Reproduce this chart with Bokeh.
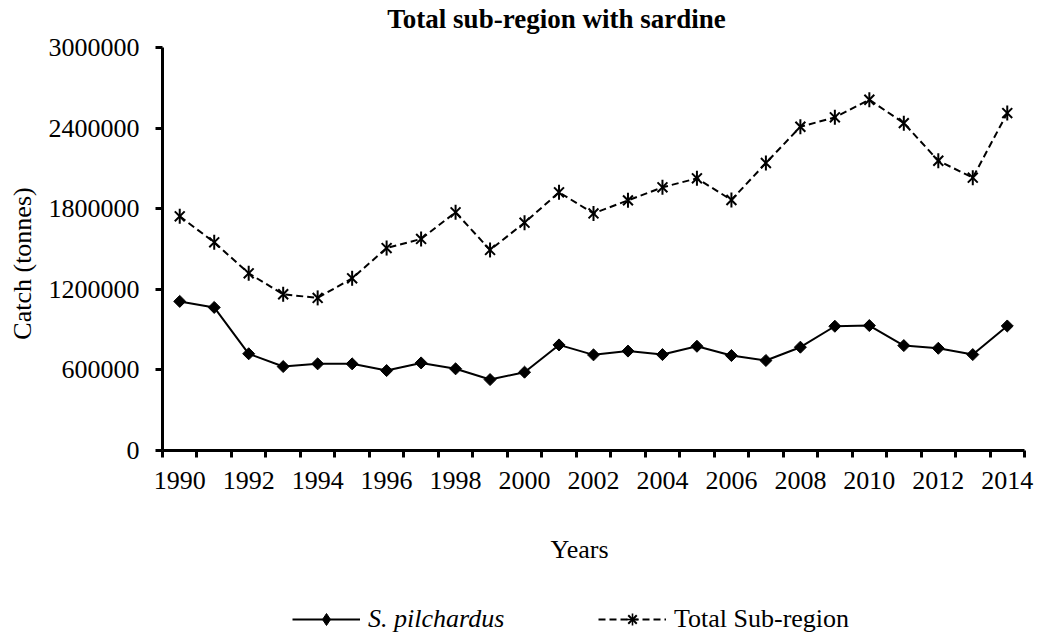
import math
from bokeh.plotting import figure
from bokeh.models import Range1d, FixedTicker, NumeralTickFormatter, Legend, LegendItem, Label
from bokeh.embed import file_html
from bokeh.resources import INLINE

years = list(range(1990, 2015))
sardine = [1110000, 1065000, 720000, 625000, 645000, 645000, 595000, 652000, 608000, 528000,
           583000, 786000, 712000, 740000, 714000, 776000, 707000, 670000, 769000, 925000,
           930000, 781000, 761000, 714000, 927000]
total = [1743000, 1550000, 1319000, 1163000, 1136000, 1282000, 1507000, 1575000, 1773000, 1493000,
         1696000, 1922000, 1765000, 1862000, 1959000, 2026000, 1865000, 2140000, 2410000, 2480000,
         2611000, 2437000, 2157000, 2031000, 2512000]
x_labels = [1990, 1992, 1994, 1996, 1998, 2000, 2002, 2004, 2006, 2008, 2010, 2012, 2014]
y_ticks = [0, 600000, 1200000, 1800000, 2400000, 3000000]
y_max = 3000000

FONT = "Liberation Serif"
FS = "26px"

# layout geometry (pixels)
W, H = 1037, 635
AX_LEFT, AX_RIGHT = 162, 1024   # x extent of the category axis
AX_TOP, AX_ZERO = 47, 450       # y pixel of y_max and of 0

x0, x1 = years[0] - 0.5, years[-1] + 0.5
ppx = (AX_RIGHT - AX_LEFT) / (x1 - x0)
ppy = (AX_ZERO - AX_TOP) / y_max
x_range = Range1d(x0 - AX_LEFT / ppx, x1 + (W - AX_RIGHT) / ppx)
y_range = Range1d(-(H - AX_ZERO) / ppy, y_max + AX_TOP / ppy)

p = figure(width=W, height=H, output_backend="svg", toolbar_location=None,
           x_range=x_range, y_range=y_range,
           min_border_left=0, min_border_right=0, min_border_top=0, min_border_bottom=0)
p.outline_line_color = None
p.xgrid.visible = False
p.ygrid.visible = False
p.background_fill_color = "white"

# axes
xa = p.xaxis[0]
xa.fixed_location = 0
xa.bounds = (x0, x1)
xa.ticker = FixedTicker(ticks=x_labels, minor_ticks=[y - 0.5 for y in years] + [x1])
xa.major_tick_out = 0
xa.major_tick_in = 0
xa.minor_tick_in = 0
xa.minor_tick_out = 7
xa.minor_tick_line_width = 3
xa.minor_tick_line_color = "black"
xa.axis_line_width = 3
xa.axis_line_color = "black"
xa.major_label_standoff = 14
xa.major_label_text_font = FONT
xa.major_label_text_font_size = FS
xa.major_label_text_color = "black"

ya = p.yaxis[0]
ya.fixed_location = x0
ya.bounds = (0, y_max)
ya.ticker = FixedTicker(ticks=y_ticks, minor_ticks=[])
ya.formatter = NumeralTickFormatter(format="0")
ya.major_tick_out = 7
ya.major_tick_in = 0
ya.major_tick_line_width = 3
ya.major_tick_line_color = "black"
ya.minor_tick_out = 0
ya.minor_tick_in = 0
ya.axis_line_width = 3
ya.axis_line_color = "black"
ya.major_label_standoff = 16
ya.major_label_text_font = FONT
ya.major_label_text_font_size = FS
ya.major_label_text_color = "black"

# texts
p.add_layout(Label(x=556, y=H - 18, x_units="screen", y_units="screen",
                   text="Total sub-region with sardine", text_font=FONT, text_font_size="27px",
                   text_font_style="bold", text_color="black", text_align="center",
                   text_baseline="alphabetic"))
p.add_layout(Label(x=579, y=H - 549, x_units="screen", y_units="screen",
                   text="Years", text_font=FONT, text_font_size=FS, text_color="black",
                   text_align="center", text_baseline="alphabetic"))
p.add_layout(Label(x=22, y=H - 263, x_units="screen", y_units="screen", angle=math.pi / 2,
                   text="Catch (tonnes)", text_font=FONT, text_font_size=FS, text_color="black",
                   text_align="center", text_baseline="alphabetic"))

# series
l1 = p.line(years, sardine, line_color="black", line_width=2)
# diamond used for the legend swatch (legend swatches ignore marker angle); covered by the rotated squares
d1 = p.scatter(years, sardine, marker="diamond", size=6, fill_color="black", line_color="black",
               line_width=1)
s1 = p.scatter(years, sardine, marker="square", size=8.5, angle=math.pi / 4,
               fill_color="black", line_color="black", line_width=1)

l2 = p.line(years, total, line_color="black", line_width=2, line_dash="7 4")
# small cross used for the legend swatch's vertical stroke; hidden at the centre of each star
d2 = p.scatter(years, total, marker="cross", size=2, line_color="black", line_width=1.6)
s2a = p.scatter(years, total, marker="x", size=14, line_color="black", line_width=2)
s2b = p.scatter(years, total, marker="dash", size=15, angle=math.pi / 2, line_color="black", line_width=2)

leg1 = Legend(items=[LegendItem(label="S. pilchardus", renderers=[l1, d1])],
              location=(292, 1), orientation="horizontal")
leg2 = Legend(items=[LegendItem(label="Total Sub-region", renderers=[l2, s2a, d2])],
              location=(598, 1), orientation="horizontal")
for lg, style in ((leg1, "italic"), (leg2, "normal")):
    lg.label_text_font = FONT
    lg.label_text_font_size = FS
    lg.label_text_font_style = style
    lg.label_text_color = "black"
    lg.glyph_width = 68
    lg.glyph_height = 30
    lg.label_height = 30
    lg.label_standoff = 8
    lg.padding = 0
    lg.margin = 0
    lg.spacing = 0
    lg.border_line_color = None
    lg.background_fill_alpha = 0
    p.add_layout(lg, "center")

open("out.html", "w").write(file_html(p, INLINE))
